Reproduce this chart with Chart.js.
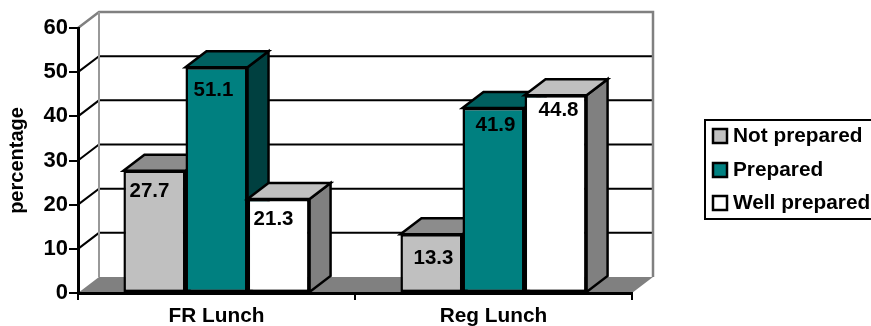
<!DOCTYPE html>
<html>
<head>
<meta charset="utf-8">
<style>
  html, body { margin: 0; padding: 0; background: #fff; }
  canvas { display: block; }
</style>
<script src="https://cdn.jsdelivr.net/npm/chart.js@4/dist/chart.umd.min.js"></script>
</head>
<body>
<canvas id="lunchChart" width="871" height="326"></canvas>
<script>
const categories = ["FR Lunch", "Reg Lunch"];
const notPrepared = [27.7, 13.3];
const prepared = [51.1, 41.9];
const wellPrepared = [21.3, 44.8];
const seriesNames = ["Not prepared", "Prepared", "Well prepared"];

const FONT = "Liberation Sans, Arial, sans-serif";
const DEPTH_X = 21;
const DEPTH_Y = 16;

// front, top and side colour of each series
const faces = [
  { front: "#c0c0c0", top: "#8c8c8c", side: "#808080" },
  { front: "#008080", top: "#005f5f", side: "#004040" },
  { front: "#ffffff", top: "#c0c0c0", side: "#808080" }
];

// small nudges for the value labels, [dx, dy from bar top] per series and category
const labelNudge = [
  [[-5, 21], [2, 24]],
  [[-3, 23], [2, 17]],
  [[-5, 20], [3, 15]]
];

function poly(ctx, pts, fill, stroke, lw) {
  ctx.beginPath();
  pts.forEach((p, i) => i ? ctx.lineTo(p[0], p[1]) : ctx.moveTo(p[0], p[1]));
  ctx.closePath();
  if (fill) { ctx.fillStyle = fill; ctx.fill(); }
  if (stroke) { ctx.strokeStyle = stroke; ctx.lineWidth = lw; ctx.lineJoin = "miter"; ctx.stroke(); }
}

function segs(ctx, pts, color, lw) {
  ctx.beginPath();
  pts.forEach((p, i) => i ? ctx.lineTo(p[0], p[1]) : ctx.moveTo(p[0], p[1]));
  ctx.strokeStyle = color;
  ctx.lineWidth = lw;
  ctx.stroke();
}

// back wall, floor and the receding gridlines
const wallPlugin = {
  id: "wall",
  beforeDraw(chart) {
    const { ctx, scales } = chart;
    const y = scales.y, x = scales.x;
    const l = x.left, r = x.right, b = y.getPixelForValue(0), t = y.getPixelForValue(60);
    ctx.save();
    poly(ctx, [[l, b], [l + DEPTH_X, b - DEPTH_Y], [r + DEPTH_X, b - DEPTH_Y], [r, b]], "#808080");
    y.ticks.forEach(tick => {
      if (tick.value === 0 || tick.value === 60) return;
      const py = y.getPixelForValue(tick.value);
      segs(ctx, [[l, py], [l + DEPTH_X, py - DEPTH_Y], [r + DEPTH_X, py - DEPTH_Y]], "#000", 2);
    });
    segs(ctx, [[l, t], [l + DEPTH_X, t - DEPTH_Y], [r + DEPTH_X, t - DEPTH_Y], [r + DEPTH_X, b - DEPTH_Y]], "#808080", 2.5);
    segs(ctx, [[l + DEPTH_X, t - DEPTH_Y], [l + DEPTH_X, b - DEPTH_Y]], "#999", 2);
    ctx.restore();
  }
};

// paints the series left to right so each bar's front covers its neighbour's side
const boxPlugin = {
  id: "box",
  beforeDatasetsDraw(chart) {
    const { ctx } = chart;
    chart.data.datasets.forEach((ds, i) => {
      const meta = chart.getDatasetMeta(i);
      const c = faces[i];
      ctx.save();
      meta.data.forEach(bar => {
        const hw = bar.width / 2;
        const x0 = bar.x - hw, x1 = bar.x + hw;
        poly(ctx, [[x1, bar.y], [x1 + DEPTH_X, bar.y - DEPTH_Y], [x1 + DEPTH_X, bar.base - DEPTH_Y], [x1, bar.base]], c.side, "#000", 2.5);
        poly(ctx, [[x0, bar.y], [x0 + DEPTH_X, bar.y - DEPTH_Y], [x1 + DEPTH_X, bar.y - DEPTH_Y], [x1, bar.y]], c.top, "#000", 2.5);
      });
      ctx.restore();
      meta.controller.draw();
    });
  },
  beforeDatasetDraw() {
    return false; // already painted above
  },
  afterDatasetsDraw(chart) {
    const { ctx } = chart;
    ctx.save();
    ctx.font = "bold 20.5px " + FONT;
    ctx.fillStyle = "#000";
    ctx.textAlign = "center";
    ctx.textBaseline = "middle";
    chart.data.datasets.forEach((ds, i) => {
      chart.getDatasetMeta(i).data.forEach((bar, j) => {
        const n = labelNudge[i][j];
        ctx.fillText(ds.data[j].toFixed(1), bar.x + n[0], bar.y + n[1]);
      });
    });
    ctx.restore();
  }
};

const legendPlugin = {
  id: "boxLegend",
  afterDraw(chart) {
    const { ctx } = chart;
    const rows = [136, 170, 203];
    ctx.save();
    ctx.strokeStyle = "#000";
    ctx.lineWidth = 2;
    ctx.strokeRect(705, 120, 170, 99);
    ctx.font = "bold 20.8px " + FONT;
    ctx.textBaseline = "middle";
    seriesNames.forEach((name, i) => {
      ctx.fillStyle = faces[i].front;
      ctx.lineWidth = 2.5;
      ctx.fillRect(713, rows[i] - 7, 14, 14);
      ctx.strokeRect(713, rows[i] - 7, 14, 14);
      ctx.fillStyle = "#000";
      ctx.fillText(name, 733, rows[i]);
    });
    ctx.restore();
  }
};

const bars = [notPrepared, prepared, wellPrepared].map((values, i) => ({
  label: seriesNames[i],
  data: values,
  backgroundColor: faces[i].front,
  borderColor: "#000",
  borderWidth: 2.5,
  borderSkipped: false
}));

new Chart(document.getElementById("lunchChart"), {
  type: "bar",
  data: { labels: categories, datasets: bars },
  plugins: [wallPlugin, boxPlugin, legendPlugin],
  options: {
    responsive: false,
    animation: false,
    layout: { padding: { top: 28, right: 239, left: 0, bottom: 0 } },
    datasets: { bar: { categoryPercentage: 0.672, barPercentage: 1 } },
    plugins: { legend: { display: false }, tooltip: { enabled: false } },
    scales: {
      x: {
        afterFit(s) { s.height = 33; },
        grid: { offset: true, drawOnChartArea: false, color: "#000", lineWidth: 2, tickLength: 7 },
        border: { color: "#000", width: 3 },
        ticks: { color: "#000", font: { family: FONT, size: 20.8, weight: "bold" }, padding: 4, maxRotation: 0 }
      },
      y: {
        min: 0,
        max: 60,
        afterFit(s) { s.width = 78; },
        title: {
          display: true,
          text: "percentage",
          color: "#000",
          font: { family: FONT, size: 20, weight: "bold" },
          padding: { top: 5, bottom: 0 }
        },
        grid: { drawOnChartArea: false, color: "#000", lineWidth: 2, tickLength: 9 },
        border: { color: "#000", width: 3 },
        ticks: { stepSize: 10, color: "#000", font: { family: FONT, size: 22, weight: "bold" }, padding: 1 }
      }
    }
  }
});
</script>
</body>
</html>
